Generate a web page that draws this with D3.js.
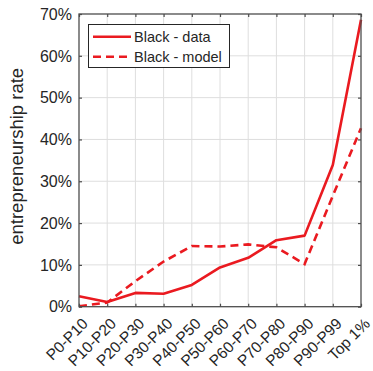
<!DOCTYPE html>
<html>
<head>
<meta charset="utf-8">
<script src="https://cdn.jsdelivr.net/npm/d3@7"></script>
<style>
  html, body { margin: 0; padding: 0; background: #fff; }
  svg { display: block; }
  text { font-family: "Liberation Sans", Arial, Helvetica, sans-serif; fill: #262626; }
</style>
</head>
<body>
<script>
// Income groups along the x axis
const categories = ["P0-P10", "P10-P20", "P20-P30", "P30-P40", "P40-P50", "P50-P60",
                    "P60-P70", "P70-P80", "P80-P90", "P90-P99", "Top 1%"];
// Entrepreneurship rate (%) observed in the data
const dataValues = [2.5, 1.1, 3.3, 3.1, 5.2, 9.4, 11.7, 15.9, 17.0, 33.9, 68.6];
// Entrepreneurship rate (%) predicted by the model
const modelValues = [0.1, 1.0, 6.1, 10.8, 14.5, 14.4, 14.9, 14.2, 10.2, 26.5, 42.7];
// Y axis ticks (%)
const yTicks = [0, 10, 20, 30, 40, 50, 60, 70];
const seriesNames = ["Black - data", "Black - model"];

const W = 373, H = 371;
const margin = { left: 79, right: 12, top: 14, bottom: 64.3 };
const red = "#ea1a20";

const svg = d3.select("body").append("svg").attr("width", W).attr("height", H);

const x = d3.scalePoint().domain(categories).range([margin.left, W - margin.right]);
const y = d3.scaleLinear().domain([0, 70]).range([H - margin.bottom, margin.top]);

const x0 = x.range()[0], x1 = x.range()[1];
const y0 = y.range()[0], y1 = y.range()[1];

// grid
const grid = svg.append("g").attr("stroke", "#dedede").attr("stroke-width", 1);
grid.selectAll("line.v").data(categories.slice(1, -1)).join("line")
  .attr("x1", d => x(d)).attr("x2", d => x(d)).attr("y1", y1).attr("y2", y0);
grid.selectAll("line.h").data(yTicks.slice(1, -1)).join("line")
  .attr("x1", x0).attr("x2", x1).attr("y1", d => y(d)).attr("y2", d => y(d));

// series lines
const line = (vals) => d3.line().x((d, i) => x(categories[i])).y(d => y(d))(vals);
svg.append("path").attr("d", line(modelValues)).attr("fill", "none")
  .attr("stroke", red).attr("stroke-width", 2.6).attr("stroke-dasharray", "8,5");
svg.append("path").attr("d", line(dataValues)).attr("fill", "none")
  .attr("stroke", red).attr("stroke-width", 2.6).attr("stroke-linejoin", "round");

// axes box and inward ticks
const axisColor = "#4d4d4d";
const axes = svg.append("g");
axes.append("rect").attr("x", x0).attr("y", y1).attr("width", x1 - x0).attr("height", y0 - y1)
  .attr("fill", "none").attr("stroke", axisColor).attr("stroke-width", 1.3);

const xAxisBottom = d3.axisBottom(x).tickSizeInner(-3).tickSizeOuter(0).tickFormat("");
const xAxisTop = d3.axisTop(x).tickSizeInner(-3).tickSizeOuter(0).tickFormat("");
const yAxisLeft = d3.axisLeft(y).tickValues(yTicks).tickSizeInner(-3).tickSizeOuter(0).tickFormat("");
const yAxisRight = d3.axisRight(y).tickValues(yTicks).tickSizeInner(-3).tickSizeOuter(0).tickFormat("");
[[xAxisBottom, `translate(0,${y0})`], [xAxisTop, `translate(0,${y1})`],
 [yAxisLeft, `translate(${x0},0)`], [yAxisRight, `translate(${x1},0)`]].forEach(([ax, tr]) => {
  const g = axes.append("g").attr("transform", tr).call(ax);
  g.select(".domain").remove();
  g.selectAll("line").attr("stroke", axisColor).attr("stroke-width", 1.2);
});

// y tick labels
svg.append("g").selectAll("text").data(yTicks).join("text")
  .attr("x", x0 - 7).attr("y", d => y(d)).attr("dy", "0.36em")
  .attr("text-anchor", "end").attr("font-size", 16)
  .text(d => d + "%");

// x tick labels, rotated
svg.append("g").selectAll("text").data(categories).join("text")
  .attr("transform", d => `translate(${x(d) + 6},${y0 + 14}) rotate(-45)`)
  .attr("dy", "0.36em")
  .attr("text-anchor", "end").attr("font-size", 15.5)
  .text(d => d);

// y axis title
svg.append("text")
  .attr("transform", `translate(23,${(y0 + y1) / 2 - 4}) rotate(-90)`)
  .attr("text-anchor", "middle").attr("font-size", 18.5)
  .text("entrepreneurship rate");

// legend
const lg = svg.append("g");
lg.append("rect").attr("x", 88.5).attr("y", 24.5).attr("width", 141).attr("height", 43)
  .attr("fill", "#fff").attr("stroke", "#262626").attr("stroke-width", 1);
const rows = [{ name: seriesNames[0], dash: null, yy: 36.7 }, { name: seriesNames[1], dash: "8,5", yy: 56.7 }];
rows.forEach(r => {
  lg.append("line").attr("x1", 93).attr("x2", 131).attr("y1", r.yy).attr("y2", r.yy)
    .attr("stroke", red).attr("stroke-width", 2.6).attr("stroke-dasharray", r.dash);
  lg.append("text").attr("x", 134).attr("y", r.yy).attr("dy", "0.36em")
    .attr("font-size", 14.5).text(r.name);
});
</script>
</body>
</html>
